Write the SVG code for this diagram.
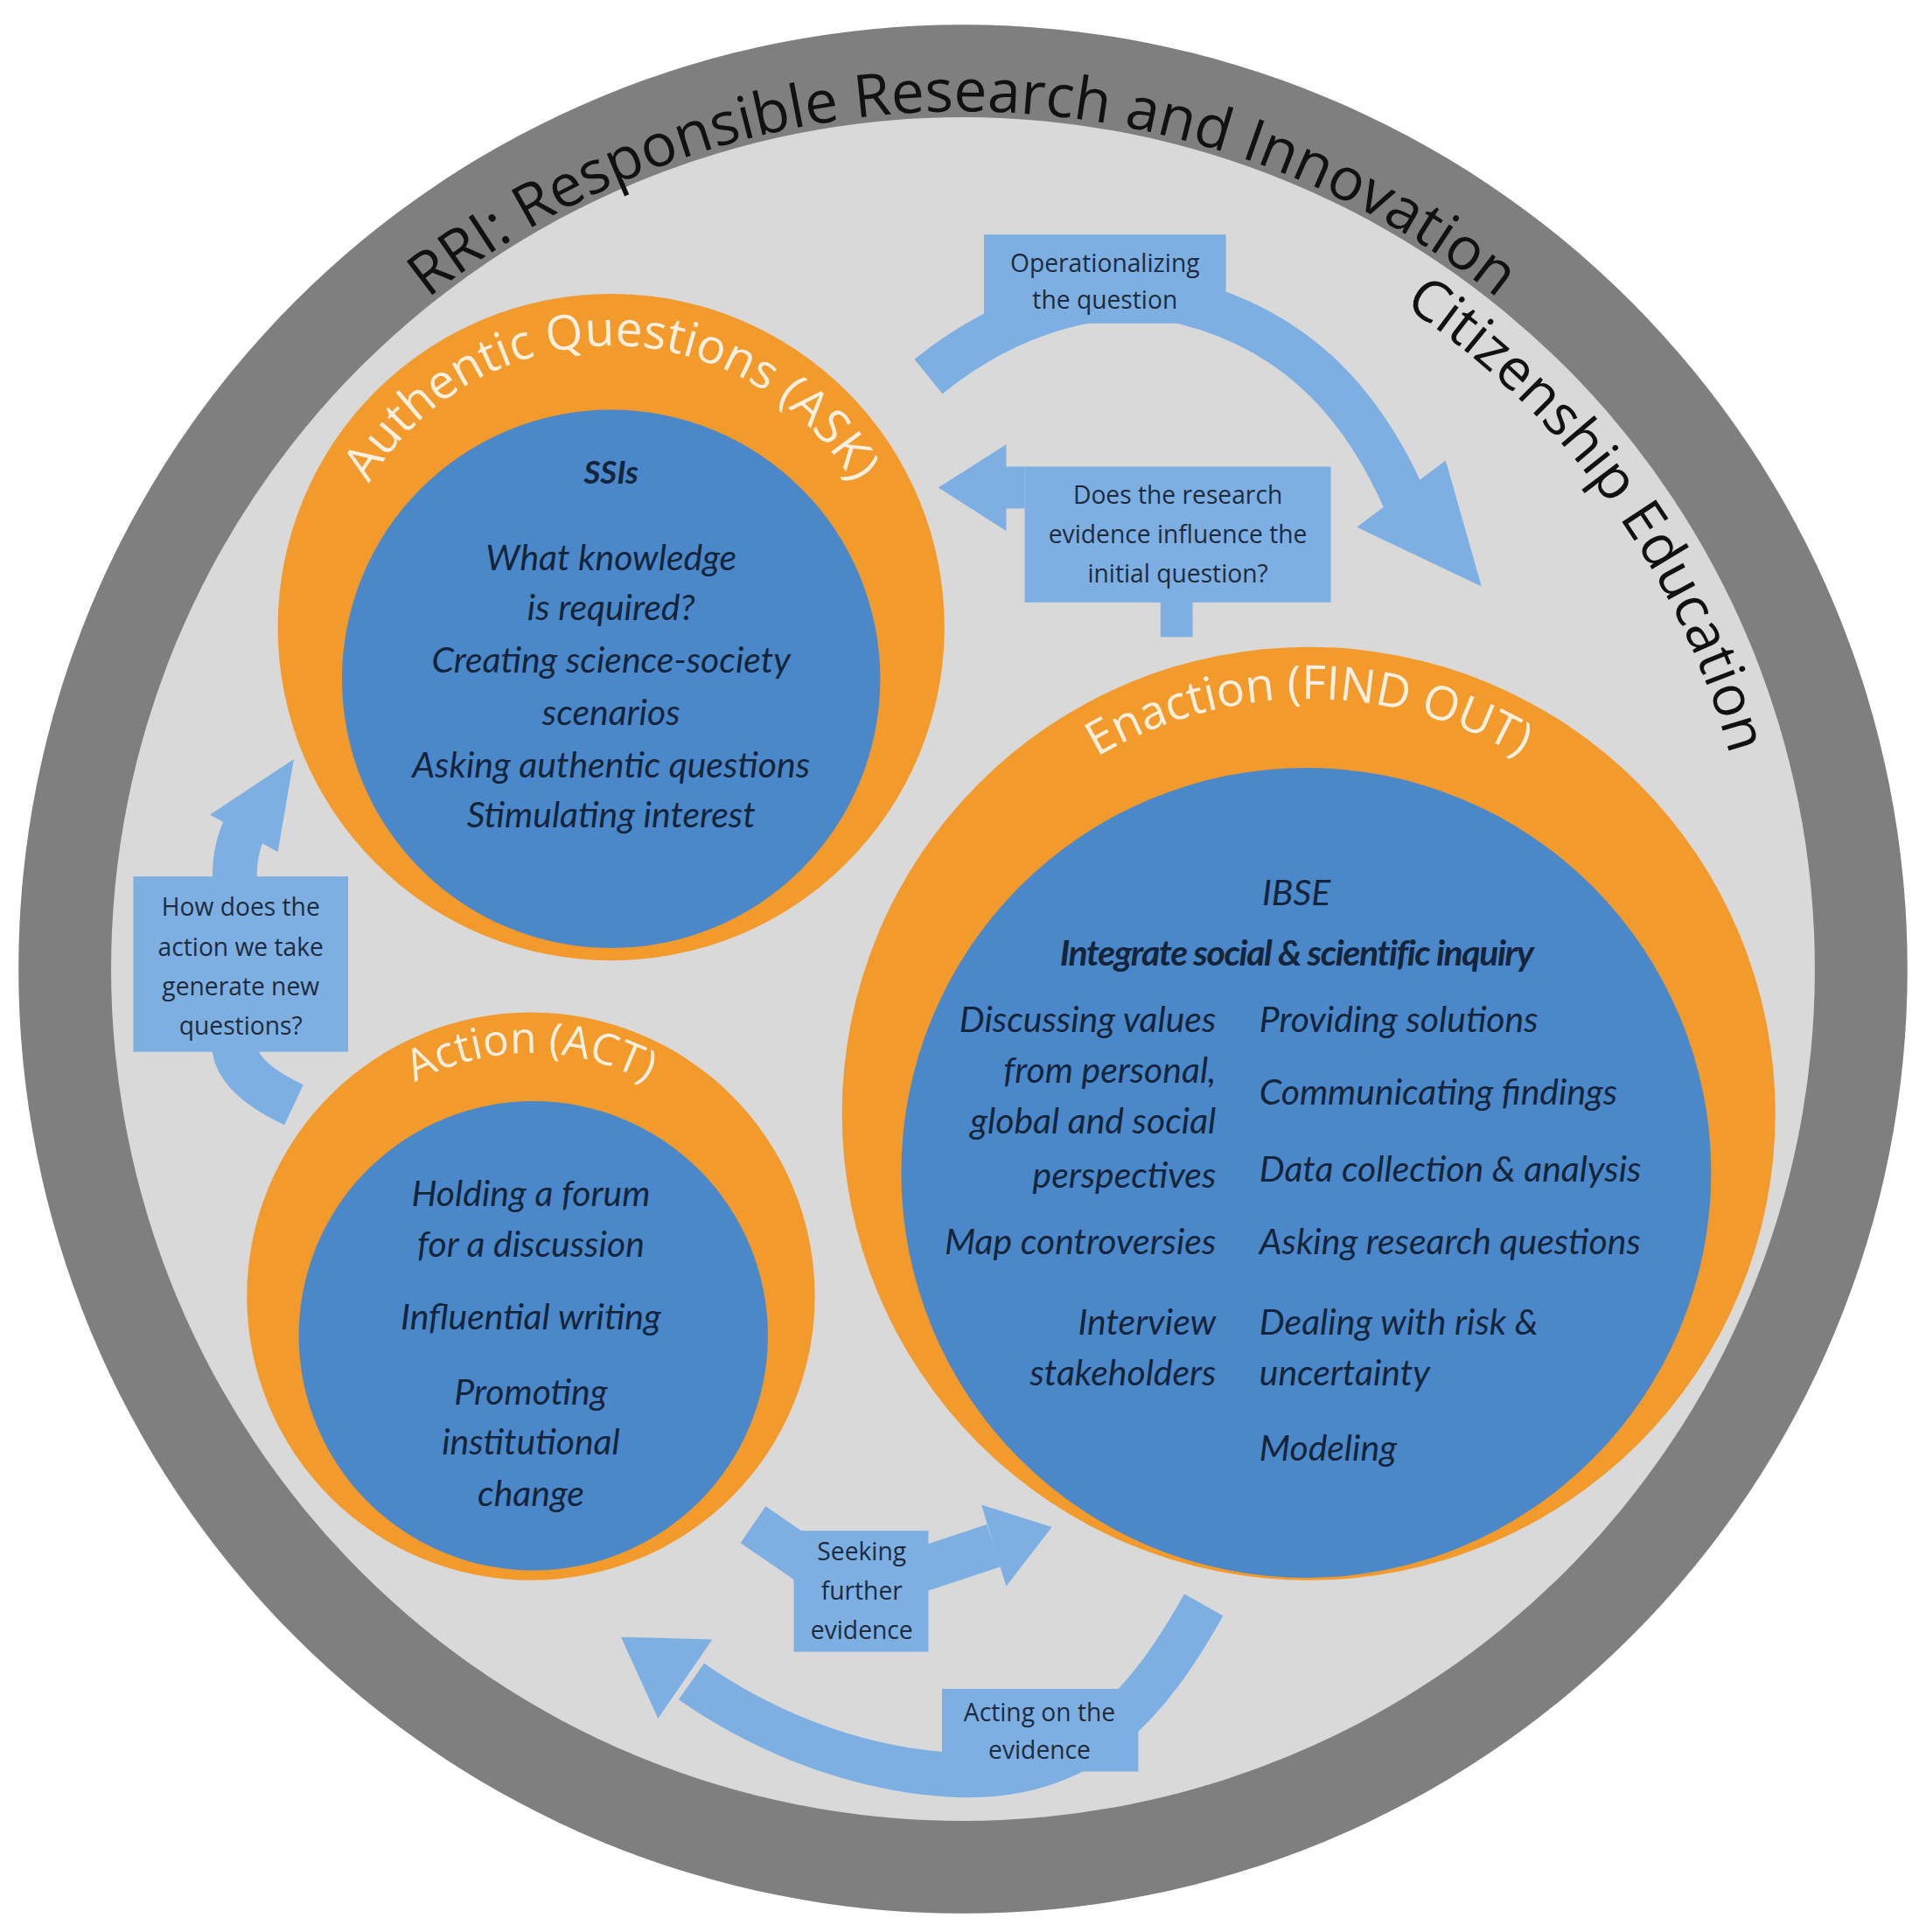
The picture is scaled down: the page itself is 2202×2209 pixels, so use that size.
<svg xmlns="http://www.w3.org/2000/svg" width="2202" height="2209" viewBox="0 0 2202 2209">
<style>
.ring{font-family:"Open Sans","Liberation Sans",sans-serif;}
.blk{fill:#111;}
.lbl{fill:#fdf0e0;font-family:"Open Sans","Liberation Sans",sans-serif;}
.it{font-family:Lato,"Open Sans","Liberation Sans",sans-serif;font-style:italic;fill:#14243a;font-size:29px;}
.box{fill:#7dafe2;}
.bt{font-family:"Open Sans","Liberation Sans",sans-serif;fill:#1d2b3c;font-size:20px;text-anchor:middle;}
.arr{fill:none;stroke:#7dafe2;stroke-width:36;}
.ah{fill:#7dafe2;}
</style>
<defs>
<path id="pRRI" d="M 85,785 A 695,695 0 0 1 1475,785"/>
<path id="pCIT" d="M 780,140 A 645,645 0 0 1 1425,785"/>
<path id="pASK" d="M 267,508 A 228,228 0 0 1 723,508"/>
<path id="pACT" d="M 233,1050 A 197,197 0 0 1 627,1050"/>
<path id="pFIND" d="M 724,902 A 336,336 0 0 1 1396,902"/>
</defs>
<rect width="2202" height="2209" fill="#ffffff"/>
<g transform="scale(1.4115)">
<g id="background">
<circle cx="780" cy="785" r="765" fill="#7f7f7f"/>
<circle cx="780" cy="785" r="690" fill="#d9d9d9"/>
<text class="ring blk" font-size="48"><textPath href="#pRRI" startOffset="50%" text-anchor="middle">RRI: Responsible Research and Innovation</textPath></text>
<text class="ring blk" font-size="46"><textPath href="#pCIT" startOffset="60%" text-anchor="middle">Citizenship Education</textPath></text>
</g>
<g id="connectors">
<path class="arr" d="M 752,305 C 820,250 900,230 960,245 C 1060,270 1110,340 1140,410"/>
<polygon class="ah" points="1099,427 1171,373 1200,475"/>
<rect class="box" x="797" y="190" width="196" height="72"/>
<polygon class="ah" points="760,395 815,360 815,378 830,378 830,412 815,412 815,430"/>
<rect class="box" x="830" y="378" width="248" height="110"/>
<rect class="box" x="940" y="486" width="26" height="30"/>
<path class="arr" d="M 238,895 Q 185,870 190,840"/>
<path class="arr" d="M 190,712 Q 190,685 200,668"/>
<polygon class="ah" points="170,660 225,690 238,615"/>
<rect class="box" x="108" y="710" width="174" height="142"/>
<path class="arr" d="M 610,1235 L 690,1290 L 805,1252"/>
<polygon class="ah" points="815,1285 795,1219 852,1237"/>
<rect class="box" x="643" y="1240" width="109" height="98"/>
<path class="arr" d="M 975,1300 C 930,1380 880,1440 780,1438 C 680,1435 600,1390 560,1362"/>
<polygon class="ah" points="577,1328 533,1392 503,1326"/>
<rect class="box" x="763" y="1368" width="159" height="67"/>
<text class="bt"><tspan x="895" y="220">Operationalizing</tspan><tspan x="895" y="250">the question</tspan></text>
<text class="bt"><tspan x="954" y="408">Does the research</tspan><tspan x="954" y="440">evidence influence the</tspan><tspan x="954" y="472">initial question?</tspan></text>
<text class="bt"><tspan x="195" y="742">How does the</tspan><tspan x="195" y="774">action we take</tspan><tspan x="195" y="806">generate new</tspan><tspan x="195" y="838">questions?</tspan></text>
<text class="bt"><tspan x="698" y="1264">Seeking</tspan><tspan x="698" y="1296">further</tspan><tspan x="698" y="1328">evidence</tspan></text>
<text class="bt"><tspan x="842" y="1394">Acting on the</tspan><tspan x="842" y="1425">evidence</tspan></text>
</g>
<g id="ask">
<circle cx="495" cy="508" r="270" fill="#f39a2c"/>
<circle cx="495" cy="550" r="218" fill="#4a88c9"/>
<text class="lbl" font-size="39"><textPath href="#pASK" startOffset="50%" text-anchor="middle">Authentic Questions (ASK)</textPath></text>
<text class="it" text-anchor="middle"><tspan x="495" y="392" font-weight="bold" font-size="26">SSIs</tspan><tspan x="495" y="462">What knowledge</tspan><tspan x="495" y="502">is required?</tspan><tspan x="495" y="545">Creating science-society</tspan><tspan x="495" y="587">scenarios</tspan><tspan x="495" y="630">Asking authentic questions</tspan><tspan x="495" y="670">Stimulating interest</tspan></text>
</g>
<g id="act">
<circle cx="430" cy="1050" r="230" fill="#f39a2c"/>
<circle cx="432" cy="1082" r="190" fill="#4a88c9"/>
<text class="lbl" font-size="35"><textPath href="#pACT" startOffset="50%" text-anchor="middle">Action (ACT)</textPath></text>
<text class="it" text-anchor="middle"><tspan x="430" y="977">Holding a forum</tspan><tspan x="430" y="1018">for a discussion</tspan><tspan x="430" y="1077">Influential writing</tspan><tspan x="430" y="1138">Promoting</tspan><tspan x="430" y="1178">institutional</tspan><tspan x="430" y="1220">change</tspan></text>
</g>
<g id="findout">
<circle cx="1060" cy="902" r="378" fill="#f39a2c"/>
<circle cx="1058" cy="950" r="328" fill="#4a88c9"/>
<text class="lbl" font-size="38"><textPath href="#pFIND" startOffset="50%" text-anchor="middle">Enaction (FIND OUT)</textPath></text>
<text class="it" text-anchor="middle" font-size="31"><tspan x="1050" y="733">IBSE</tspan><tspan x="1050" y="782" font-weight="bold" letter-spacing="-1">Integrate social &amp; scientific inquiry</tspan></text>
<text class="it" text-anchor="end"><tspan x="985" y="836">Discussing values</tspan><tspan x="985" y="877">from personal,</tspan><tspan x="985" y="918">global and social</tspan><tspan x="985" y="962">perspectives</tspan><tspan x="985" y="1016">Map controversies</tspan><tspan x="985" y="1081">Interview</tspan><tspan x="985" y="1122">stakeholders</tspan></text>
<text class="it"><tspan x="1020" y="836">Providing solutions</tspan><tspan x="1020" y="895">Communicating findings</tspan><tspan x="1020" y="957">Data collection &amp; analysis</tspan><tspan x="1020" y="1016">Asking research questions</tspan><tspan x="1020" y="1081">Dealing with risk &amp;</tspan><tspan x="1020" y="1122">uncertainty</tspan><tspan x="1020" y="1183">Modeling</tspan></text>
</g>
</g>
</svg>
